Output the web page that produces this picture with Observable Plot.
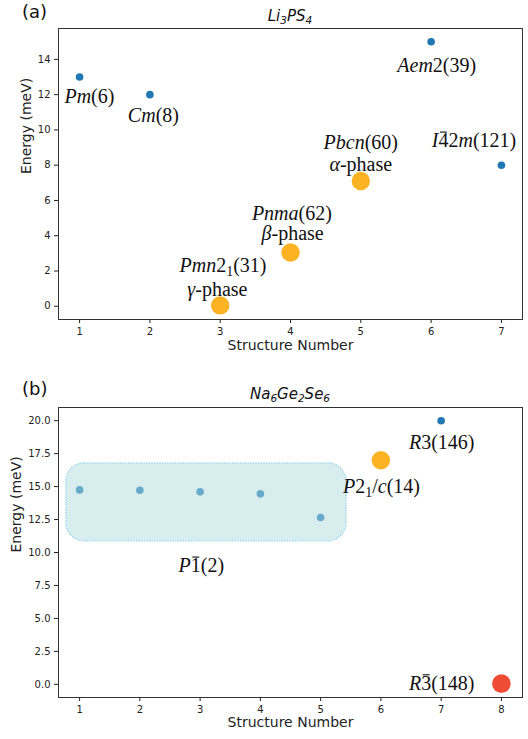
<!DOCTYPE html>
<html><head><meta charset="utf-8">
<script src="https://cdn.jsdelivr.net/npm/d3@7"></script>
<script src="https://cdn.jsdelivr.net/npm/@observablehq/plot@0.6"></script>
<style>
body{margin:0;background:#fff;}
#root{position:relative;width:528px;height:739px;font-family:"DejaVu Sans",sans-serif;color:#111;}
.panel{position:absolute;left:0;width:528px;}
.tag{position:absolute;font-size:18px;line-height:18px;white-space:nowrap;}
.title{position:absolute;font-style:italic;font-size:15px;line-height:15px;transform:translateX(-50%);white-space:nowrap;}
.title sub{font-size:70%;vertical-align:-0.25em;line-height:0;}
</style></head><body><div id="root"></div>
<script>
// ---------- Panel (a): Li3PS4 ----------
const liStructure = [1, 2, 3, 4, 5, 6, 7];
const liEnergy = [13, 12, 0.05, 3.05, 7.1, 15, 8];
const liGroup = ["other", "other", "known", "known", "known", "other", "other"];
const liXTicks = [1, 2, 3, 4, 5, 6, 7];
const liYTicks = [0, 2, 4, 6, 8, 10, 12, 14];
// annotation texts ({..} italic, _x subscript, ^x barred) and their data-space centres
const liLabels = ["{Pm}(6)", "{Cm}(8)", "{Aem}2(39)", "{I}^42{m}(121)",
  "{Pbcn}(60)", "{\u03b1}-phase", "{Pnma}(62)", "{\u03b2}-phase", "{Pmn}2_1(31)", "{\u03b3}-phase"];
const liLabelX = [1.14, 2.05, 6.08, 6.61, 5.0, 5.0, 4.02, 4.03, 3.04, 2.96];
const liLabelY = [11.9, 10.8, 13.65, 9.39, 9.3, 8.05, 5.27, 4.13, 2.32, 0.94];

// ---------- Panel (b): Na6Ge2Se6 ----------
const naStructure = [1, 2, 3, 4, 5, 6, 7, 8];
const naEnergy = [14.75, 14.72, 14.6, 14.45, 12.65, 17.0, 20.0, 0.05];
const naGroup = ["cluster", "cluster", "cluster", "cluster", "cluster", "known", "other", "ground"];
const naXTicks = [1, 2, 3, 4, 5, 6, 7, 8];
const naYTicks = [0, 2.5, 5, 7.5, 10, 12.5, 15, 17.5, 20];
const naLabels = ["{R}3(146)", "{P}2_1/{c}(14)", "{P}^1(2)", "{R}^3(148)"];
const naLabelX = [7.01, 6.01, 3.02, 7.01];
const naLabelY = [18.33, 15.0, 9.0, 0.07];
// P-1 cluster highlight box (data extent)
const clusterBoxX = [0.78, 5.43];
const clusterBoxY = [10.85, 16.76];

const colors = {other: "#1f77b4", cluster: "#1f77b4", known: "#fbb323", ground: "#ef4c36"};
const radii = {other: 3.8, cluster: 3.8, known: 9.2, ground: 9.3};

function rows(xs, ys, gs) { return xs.map((x, i) => ({x, y: ys[i], g: gs[i]})); }
function labelRows(ts, xs, ys) { return ts.map((t, i) => ({t, x: xs[i], y: ys[i]})); }

const NS = "http://www.w3.org/2000/svg";
const FS = 20;
const bars = [];
function mathify(svg, size) {
  svg.querySelectorAll("text").forEach(t => {
    const s = t.textContent;
    if (!s.includes("{")) return;
    while (t.firstChild) t.removeChild(t.firstChild);
    let italic = false, dyNext = 0, i = 0, count = 0;
    const add = (txt, attrs) => {
      const ts = document.createElementNS(NS, "tspan");
      ts.textContent = txt;
      for (const k in attrs) ts.setAttribute(k, attrs[k]);
      if (dyNext) { ts.setAttribute("dy", dyNext + "px"); dyNext = 0; }
      t.appendChild(ts);
      count += txt.length;
      return ts;
    };
    while (i < s.length) {
      const ch = s[i];
      if (ch === "{") { italic = true; i++; continue; }
      if (ch === "}") { italic = false; i++; continue; }
      if (ch === "_") {
        add(s[i + 1], {"font-size": (size * 0.7) + "px"});
        t.lastChild.setAttribute("dy", (size * 0.2) + "px");
        dyNext = -size * 0.2; i += 2; continue;
      }
      if (ch === "^") {
        bars.push({t, idx: count, size});
        add(s[i + 1], {});
        i += 2; continue;
      }
      let j = i, run = "";
      while (j < s.length && !"{}_^".includes(s[j])) { run += s[j]; j++; }
      add(run, italic ? {"font-style": "italic"} : {});
      i = j;
    }
  });
}
// draw the "bar" accents over digits once the text is laid out
function drawBars() {
  for (const b of bars) {
    const ext = b.t.getExtentOfChar(b.idx);
    const base = b.t.getStartPositionOfChar(b.idx).y;
    const y = base - b.size * 0.75;
    const ln = document.createElementNS(NS, "line");
    ln.setAttribute("x1", ext.x + 1.5); ln.setAttribute("x2", ext.x + ext.width - 1.5);
    ln.setAttribute("y1", y); ln.setAttribute("y2", y);
    ln.setAttribute("stroke", "#111"); ln.setAttribute("stroke-width", "1.1");
    if (b.t.getAttribute("transform")) ln.setAttribute("transform", b.t.getAttribute("transform"));
    b.t.parentNode.appendChild(ln);
  }
}

function panel({height, mt, mb, xdom, ydom, xticks, yticks, yfmt, data, labels, box, xlabDy, ylabDx}) {
  const marks = [
    Plot.axisX({ticks: xticks, tickSize: 4, tickPadding: 4, tickFormat: "d", label: null}),
    Plot.axisY({ticks: yticks, tickSize: 4, tickPadding: 4, tickFormat: yfmt, label: null}),
    Plot.dot(data, {x: "x", y: "y", r: d => radii[d.g], fill: d => colors[d.g], stroke: null})
  ];
  if (box) marks.push(Plot.rect([box], {x1: "x1", x2: "x2", y1: "y1", y2: "y2", rx: 18,
    fill: "#b2dede", fillOpacity: 0.5, stroke: "#8fd3ef", strokeWidth: 1.3, strokeDasharray: "1.3,1.3"}));
  marks.push(
    Plot.frame({stroke: "#333", strokeWidth: 1}),
    Plot.text(labels, {x: "x", y: "y", text: "t", fontFamily: "Liberation Serif", fontSize: FS,
      fill: "#111", textAnchor: "middle", lineAnchor: "middle", letterSpacing: "0.8px"}),
    Plot.text(["Structure Number"], {text: d => d, frameAnchor: "bottom", dy: xlabDy, fontSize: 14, fill: "#222"}),
    Plot.text(["Energy (meV)"], {text: d => d, frameAnchor: "left", dx: ylabDx, rotate: -90, fontSize: 14, fill: "#222"})
  );
  const svg = Plot.plot({
    width: 528, height,
    marginTop: mt, marginBottom: mb, marginLeft: 58, marginRight: 6,
    style: {fontFamily: "DejaVu Sans", fontSize: "10px", color: "#222", background: "white", overflow: "visible"},
    x: {domain: xdom, label: null},
    y: {domain: ydom, label: null},
    r: {type: "identity"},
    color: {type: "identity"},
    marks
  });
  mathify(svg, FS);
  return svg;
}

const root = document.getElementById("root");

const divA = document.createElement("div");
divA.className = "panel"; divA.style.top = "0px";
divA.appendChild(panel({
  height: 360, mt: 28, mb: 41, xdom: [0.7, 7.3], ydom: [-0.75, 15.75],
  xticks: liXTicks, yticks: liYTicks, yfmt: "d",
  data: rows(liStructure, liEnergy, liGroup),
  labels: labelRows(liLabels, liLabelX, liLabelY), xlabDy: 30, ylabDx: -32
}));
root.appendChild(divA);

const divB = document.createElement("div");
divB.className = "panel"; divB.style.top = "360px";
divB.appendChild(panel({
  height: 379, mt: 47, mb: 42, xdom: [0.65, 8.35], ydom: [-1, 21],
  xticks: naXTicks, yticks: naYTicks, yfmt: ".1f",
  data: rows(naStructure, naEnergy, naGroup),
  labels: labelRows(naLabels, naLabelX, naLabelY), xlabDy: 29, ylabDx: -42,
  box: {x1: clusterBoxX[0], x2: clusterBoxX[1], y1: clusterBoxY[0], y2: clusterBoxY[1]}
}));
root.appendChild(divB);
drawBars();

function addHTML(cls, html, left, top) {
  const d = document.createElement("div");
  d.className = cls; d.innerHTML = html; d.style.left = left + "px"; d.style.top = top + "px";
  root.appendChild(d);
}
addHTML("tag", "(a)", 22, 3);
addHTML("title", "Li<sub>3</sub>PS<sub>4</sub>", 290, 9);
addHTML("tag", "(b)", 22, 380);
addHTML("title", "Na<sub>6</sub>Ge<sub>2</sub>Se<sub>6</sub>", 290, 387);
</script></body></html>
